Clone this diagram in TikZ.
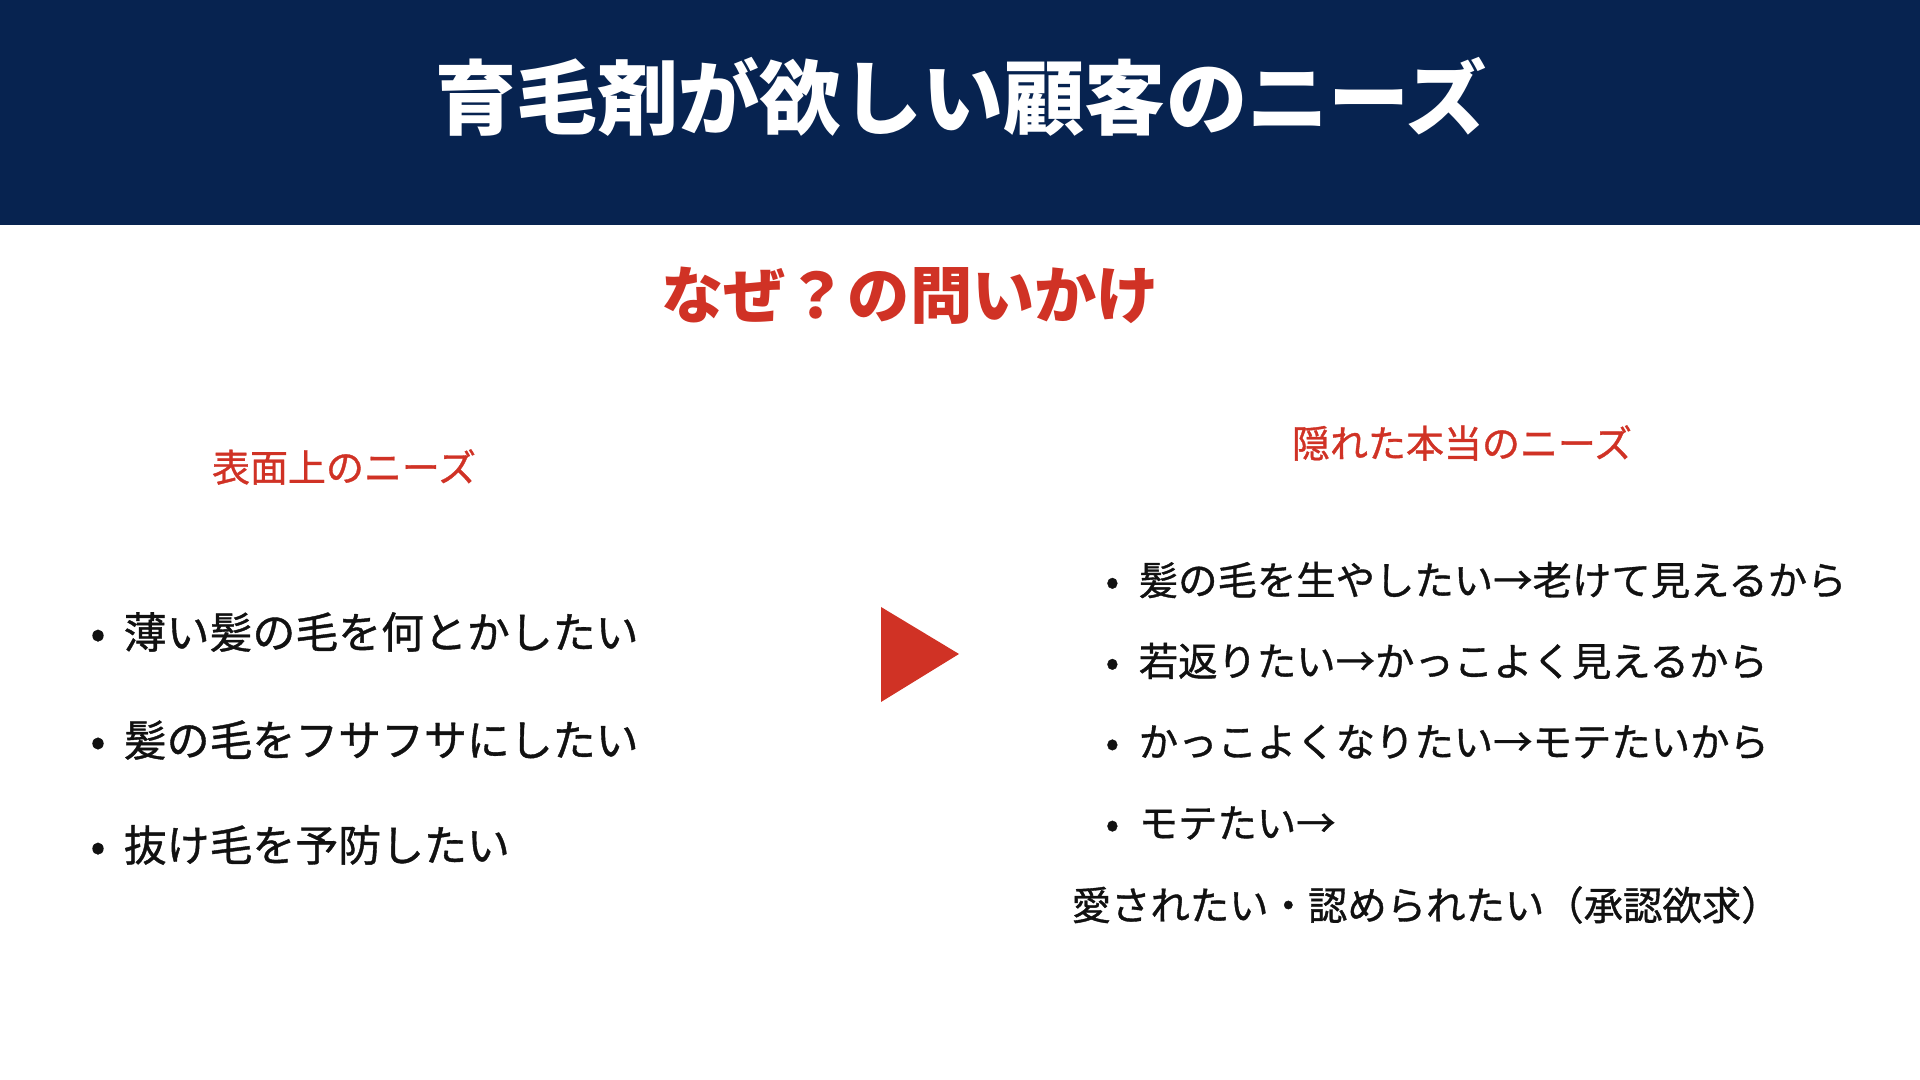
\documentclass[tikz,border=0pt]{standalone}
\usepackage{fontspec}
\setmainfont{Noto Sans CJK JP}
\newfontfamily\jpmid[FakeBold=0.9]{Noto Sans CJK JP}
\usetikzlibrary{positioning}
\definecolor{navy}{HTML}{072350}
\definecolor{accent}{HTML}{D03225}
\definecolor{ink}{HTML}{111111}
\newcommand{\bul}{\makebox[9.4pt][l]{•}}

\begin{document}
\begin{tikzpicture}[x=0.01cm,y=-0.01cm,
  every node/.style={inner sep=0pt},
  title/.style={font=\bfseries\fontsize{23.1pt}{26pt}\selectfont,white},
  question/.style={font=\bfseries\fontsize{17.7pt}{20pt}\selectfont,accent},
  heading/.style={font=\jpmid\fontsize{10.8pt}{13pt}\selectfont,accent},
  leftitem/.style={font=\jpmid\fontsize{12.2pt}{15pt}\selectfont,ink,anchor=west},
  rightitem/.style={font=\jpmid\fontsize{11.2pt}{14pt}\selectfont,ink,anchor=west}]
  \useasboundingbox (0,0) rectangle (1920,1080);
  \fill[white] (0,0) rectangle (1920,1080);

  % header band
  \fill[navy] (0,0) rectangle (1920,225);
  \node[title] (title) at (961,97) {育毛剤が欲しい顧客のニーズ};

  % question
  \node[question] (why) at (910,296) {なぜ？の問いかけ};

  % left column: surface needs
  \node[heading] (surface) at (344,467) {表面上のニーズ};
  \node[leftitem] (s1) at (90,632) {\bul 薄い髪の毛を何とかしたい};
  \node[leftitem] (s2) at (90,740) {\bul 髪の毛をフサフサにしたい};
  \node[leftitem] (s3) at (90,845) {\bul 抜け毛を予防したい};

  % arrow between the columns
  \fill[accent] (881,607) -- (959,654) -- (881,702) -- cycle;

  % right column: hidden needs
  \node[heading] (hidden) at (1462,443) {隠れた本当のニーズ};
  \node[rightitem] (h1) at (1105,580) {\bul 髪の毛を生やしたい→老けて見えるから};
  \node[rightitem] (h2) at (1105,661) {\bul 若返りたい→かっこよく見えるから};
  \node[rightitem] (h3) at (1105,742) {\bul かっこよくなりたい→モテたいから};
  \node[rightitem] (h4) at (1105,823) {\bul モテたい→};
  \node[rightitem] (h5) at (1071,905) {愛されたい・認められたい（承認欲求）};
\end{tikzpicture}
\end{document}
